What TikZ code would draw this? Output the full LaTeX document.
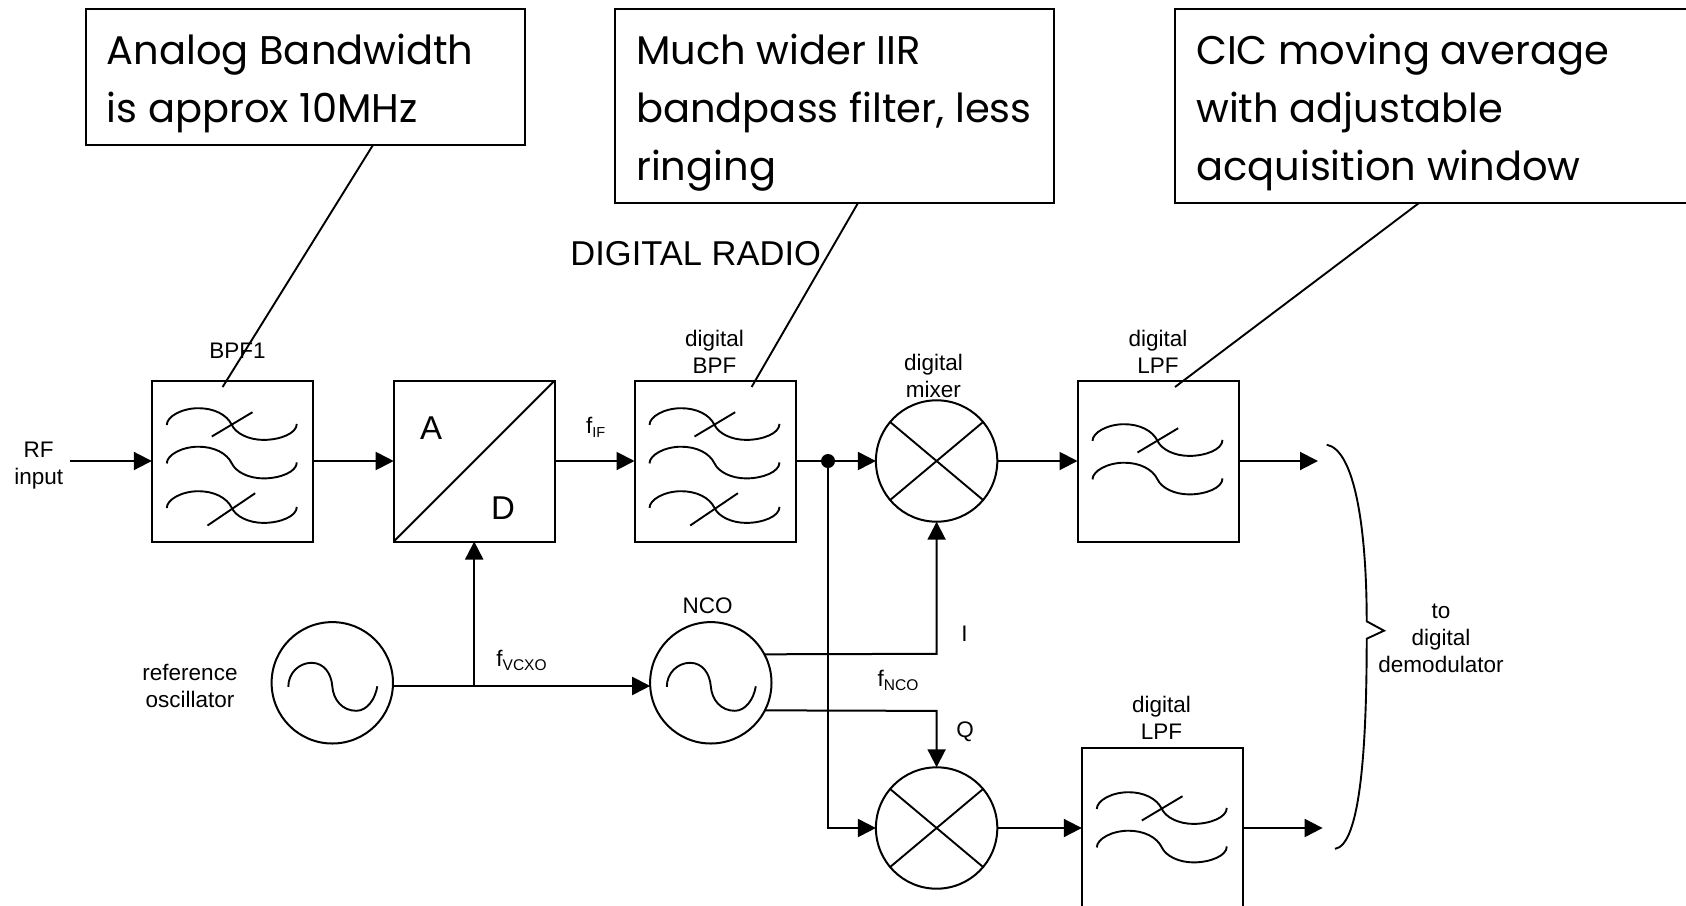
\documentclass[tikz,border=0pt]{standalone}
\usepackage{fontspec}
\setmainfont{Liberation Sans}
\newfontfamily\callfont{Poppins}
\usetikzlibrary{arrows.meta}
\tikzset{
  blk/.style={draw,line width=2pt,rectangle,minimum size=161pt,inner sep=0pt,outer sep=0pt},
  rnd/.style={draw,line width=2pt,circle,minimum size=121.4pt,inner sep=0pt,outer sep=0pt},
  callbox/.style={draw,line width=1.9pt,rectangle,inner sep=0pt,outer sep=0pt,anchor=north west},
  calltext/.style={anchor=base west,inner sep=0pt,align=left,font=\callfont\fontsize{40}{58}\selectfont},
  wire/.style={line width=2pt},
  arr/.style={line width=2pt,-{Triangle[length=18pt,width=18pt]}},
  thin wire/.style={line width=1.9pt},
  lab/.style={inner sep=0pt,align=center,font=\fontsize{22.5}{27}\selectfont},
  biglab/.style={inner sep=0pt,font=\fontsize{33}{38}\selectfont},
  dotnode/.style={circle,fill=black,minimum size=14pt,inner sep=0pt,outer sep=0pt}
}
\newcommand{\fcurve}[2]{%
  \begin{scope}[shift={(#1.north west)},shift={(0,#2)}]
    \draw[thin wire] (15,44.4) .. controls (15,36) and (30,27.7) .. (46.7,27.7)
      .. controls (62,27.7) and (75,34) .. (80,44.4)
      .. controls (84,53) and (97,59.4) .. (111.7,59.4)
      .. controls (128,59.4) and (145,53) .. (145,43.4);
  \end{scope}}
\newcommand{\fslashA}[2]{%
  \begin{scope}[shift={(#1.north west)},shift={(0,#2)}]
    \draw[thin wire] (60,56) -- (100.7,31.7);
  \end{scope}}
\newcommand{\fslashB}[2]{%
  \begin{scope}[shift={(#1.north west)},shift={(0,#2)}]
    \draw[thin wire] (55.7,62) -- (103.4,29.7);
  \end{scope}}
\newcommand{\sinewave}[1]{%
  \begin{scope}[shift={(#1.center)}]
    \draw[thin wire] (-44,4) .. controls (-44,-10) and (-33,-20) .. (-20.8,-20)
      .. controls (-8,-20) and (-1,-9) .. (0,3.5)
      .. controls (1,17) and (10,28) .. (24,28)
      .. controls (35,28) and (43,16) .. (45,3.5);
  \end{scope}}
\begin{document}
\begin{tikzpicture}[x=1pt,y=-1pt]
\useasboundingbox (0,0) rectangle (1686,905);
\fill[white] (0,0) rectangle (1686,905);
% blocks
\node[blk] (bpf) at (232.3,461) {};
\node[blk] (ad) at (474.2,461) {};
\node[blk] (dbpf) at (715,461) {};
\node[blk] (lpfa) at (1158,461) {};
\node[blk] (lpfb) at (1162.3,828) {};
\node[rnd] (mixa) at (936.6,461) {};
\node[rnd] (mixb) at (936.6,828) {};
\node[rnd] (osc) at (332.3,682.8) {};
\node[rnd] (nco) at (710.8,682.8) {};
% block contents
\foreach \b in {bpf,dbpf}{
  \fcurve{\b}{0}\fcurve{\b}{38.5}\fcurve{\b}{83}
  \fslashA{\b}{0}\fslashB{\b}{83}
}
\fcurve{lpfa}{16}\fcurve{lpfa}{54.5}\fslashA{lpfa}{16}
\fcurve{lpfb}{17}\fcurve{lpfb}{55.5}\fslashA{lpfb}{17}
\draw[thin wire] (ad.south west) -- (ad.north east);
\foreach \m in {mixa,mixb}{
  \draw[thin wire] (\m.40) -- (\m.220);
  \draw[thin wire] (\m.140) -- (\m.-40);
}
\sinewave{osc}\sinewave{nco}
% coordinates
\coordinate (rfin) at (70,461);
\coordinate (outa) at (1318,461);
\coordinate (outb) at (1322.6,828);
\node[dotnode] (tap) at (828,461) {};
\coordinate (vcxo) at (474.2,686);
\coordinate (icorner) at (936.6,653.8);
\coordinate (qcorner) at (936.6,710.9);
\coordinate (tapb) at (828,828);
% connectors
\draw[arr] (rfin) -- (bpf.west);
\draw[arr] (bpf.east) -- (ad.west);
\draw[arr] (ad.east) -- (dbpf.west);
\draw[wire] (dbpf.east) -- (tap);
\draw[arr] (tap) -- (mixa.west);
\draw[arr] (mixa.east) -- (lpfa.west);
\draw[arr] (lpfa.east) -- (outa);
\draw[arr] (mixb.east) -- (lpfb.west);
\draw[arr] (lpfb.east) -- (outb);
\draw[arr] (tap) -- (tapb) -- (mixb.west);
\draw[arr] (osc.-3) -- (nco.183);
\draw[arr] (vcxo) -- (ad.south);
\draw[arr] (nco.28.5) -- (icorner) -- (mixa.south);
\draw[arr] (nco.-27.7) -- (qcorner) -- (mixb.north);
% brace
\draw[thin wire] (1326.7,444.7) .. controls (1355,450) and (1366.7,530) .. (1366.7,621.3)
  -- (1384,630.7) -- (1366.7,638.7)
  .. controls (1366.7,750) and (1360,845) .. (1335,848.9);
% callouts
\node[callbox,minimum width=439pt,minimum height=136.4pt] (ca) at (86,8.6) {};
\node[callbox,minimum width=439pt,minimum height=194.6pt] (cb) at (615,8.6) {};
\node[callbox,minimum width=520pt,minimum height=194.6pt] (cc) at (1175,8.6) {};
\node[calltext] (cat) at (106.5,122) {Analog Bandwidth\\is approx 10MHz};
\node[calltext] (cbt) at (636,180) {Much wider IIR\\bandpass filter, less\\ringing};
\node[calltext] (cct) at (1196,180) {CIC moving average\\with adjustable\\acquisition window};
\coordinate (cae) at (222.6,387);
\coordinate (cbe) at (751.6,387);
\coordinate (cce) at (1175,387);
\coordinate (cas) at (373,145);
\coordinate (cbs) at (858,203);
\coordinate (ccs) at (1419,203);
\draw[thin wire] (cas) -- (cae);
\draw[thin wire] (cbs) -- (cbe);
\draw[thin wire] (ccs) -- (cce);
% labels
\node[lab] (lrf) at (38.7,466) {RF\\input};
\node[lab] (lbpf) at (237.6,350.5) {BPF1};
\node[lab] (ldbpf) at (714.5,351.5) {digital\\BPF};
\node[lab] (lmix) at (933.4,376) {digital\\mixer};
\node[lab] (llpfa) at (1158,351.5) {digital\\LPF};
\node[lab] (llpfb) at (1161.5,718) {digital\\LPF};
\node[biglab] (la) at (431,428) {A};
\node[biglab] (ld) at (503,508.6) {D};
\node[lab] (lfif) at (595.7,427) {f\raisebox{-4pt}{\fontsize{14.5}{15}\selectfont IF}};
\node[lab] (lfv) at (521.5,660) {f\raisebox{-4pt}{\fontsize{15.5}{15}\selectfont VCXO}};
\node[lab] (lfn) at (898,680) {f\raisebox{-4pt}{\fontsize{15.5}{15}\selectfont NCO}};
\node[lab] (lnco) at (707.5,605.4) {NCO};
\node[lab] (lref) at (190,686) {reference\\oscillator};
\node[lab] (li) at (964.5,633.5) {I};
\node[lab] (lq) at (965,732) {Q};
\node[lab] (ldem) at (1441,638.5) {to\\digital\\demodulator};
\node[inner sep=0pt,font=\fontsize{34.5}{38}\selectfont] (ldr) at (695.7,253.8) {DIGITAL RADIO};
\end{tikzpicture}
\end{document}
